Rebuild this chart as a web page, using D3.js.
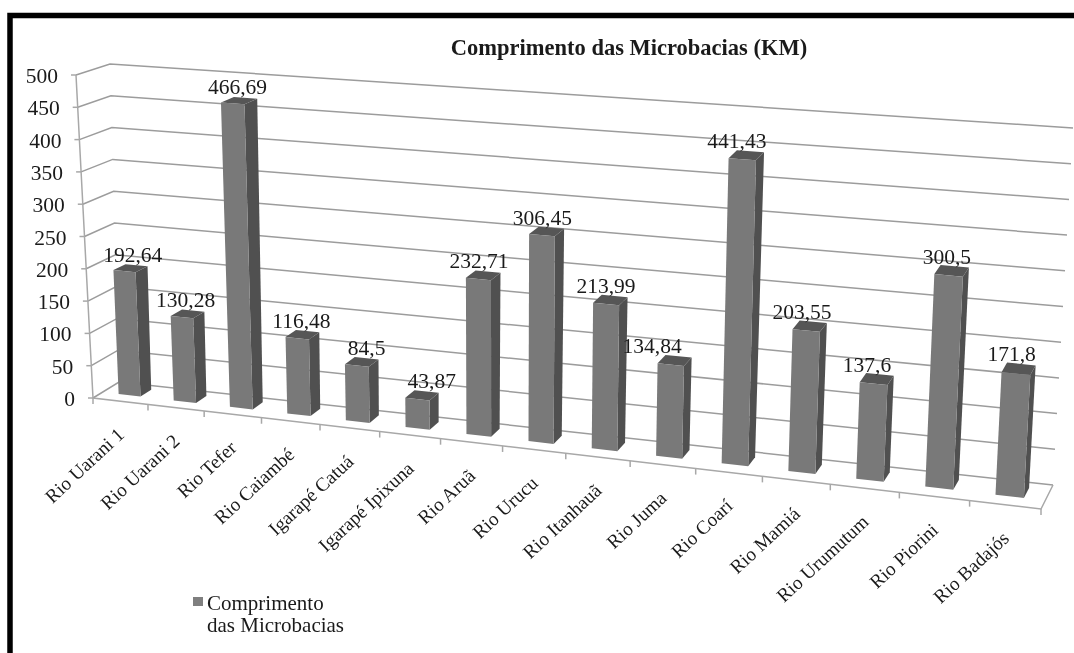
<!DOCTYPE html>
<html>
<head>
<meta charset="utf-8">
<title>Comprimento das Microbacias (KM)</title>
<script src="https://d3js.org/d3.v7.min.js"></script>
<style>
    html, body { margin: 0; padding: 0; background: #fff; overflow: hidden; }
    svg { display: block; filter: blur(0.45px); }
    text { font-family: "Liberation Serif", "Times New Roman", serif; fill: #1a1a1a; }
    .grid { stroke: #9c9c9c; stroke-width: 1.5; fill: none; }
    .edge { stroke: #a8a8a8; stroke-width: 1.5; fill: none; }
</style>
</head>
<body>
<script>
var titleText = "Comprimento das Microbacias (KM)";
var legendLines = ["Comprimento", "das Microbacias"];
var categories = ["Rio Uarani 1", "Rio Uarani 2", "Rio Tefer", "Rio Caiambé", "Igarapé Catuá",
    "Igarapé Ipixuna", "Rio Aruã", "Rio Urucu", "Rio Itanhauã", "Rio Juma", "Rio Coarí",
    "Rio Mamiá", "Rio Urumutum", "Rio Piorini", "Rio Badajós"];
var values = [192.64, 130.28, 466.69, 116.48, 84.5, 43.87, 232.71, 306.45, 213.99, 134.84,
    441.43, 203.55, 137.6, 300.5, 171.8];

var w = 1074, h = 653;
var svg = d3.select("body").append("svg")
    .attr("width", w)
    .attr("height", h);

// the four upright corners of the 3d box, as value -> pixel scales
var valueDomain = [0, 500];
var corners = {
    frontLeft: {x: d3.scaleLinear().domain(valueDomain).range([93, 76]), y: d3.scaleLinear().domain(valueDomain).range([398, 75])},
    backLeft: {x: d3.scaleLinear().domain(valueDomain).range([119, 110]), y: d3.scaleLinear().domain(valueDomain).range([382, 64])},
    frontRight: {x: d3.scaleLinear().domain(valueDomain).range([1041, 1060]), y: d3.scaleLinear().domain(valueDomain).range([509, 150])},
    backRight: {x: d3.scaleLinear().domain(valueDomain).range([1053, 1073]), y: d3.scaleLinear().domain(valueDomain).range([485, 128])}
};
var yTicks = d3.scaleLinear().domain(valueDomain).ticks(10);

// categories get a little wider towards the viewer (right side)
var n = categories.length;
var band = d3.scaleLinear().domain([0, 54.4 * n + 0.586 * n * n]).range([0, 1]);
function along(i) {
    return band(54.4 * i + 0.586 * i * i);
}

// i = position along the categories, v = value, d = 0 front .. 1 back
function project(i, v, d) {
    var t = along(i);
    var fx = d3.interpolateNumber(corners.frontLeft.x(v), corners.frontRight.x(v))(t),
        fy = d3.interpolateNumber(corners.frontLeft.y(v), corners.frontRight.y(v))(t),
        bx = d3.interpolateNumber(corners.backLeft.x(v), corners.backRight.x(v))(t),
        by = d3.interpolateNumber(corners.backLeft.y(v), corners.backRight.y(v))(t);
    return [fx + (bx - fx) * d, fy + (by - fy) * d];
}

var path = d3.line();

//walls
var walls = svg.append("g");
walls.selectAll(".back")
    .data(yTicks)
    .enter()
    .append("path")
    .attr("class", "grid")
    .attr("d", function (v) {
        return path([project(0, v, 0), project(0, v, 1), project(n, v, 1)]);
    });

walls.append("path")
    .attr("class", "edge")
    .attr("d", path([project(0, 500, 0), project(0, 0, 0), project(n, 0, 0), project(n, 0, 1)]));

//ticks
walls.selectAll(".ytick")
    .data(yTicks)
    .enter()
    .append("path")
    .attr("class", "edge")
    .attr("d", function (v) {
        var p = project(0, v, 0);
        return path([p, [p[0] - 5, p[1]]]);
    });

walls.selectAll(".xtick")
    .data(d3.range(n + 1))
    .enter()
    .append("path")
    .attr("class", "edge")
    .attr("d", function (i) {
        var p = project(i, 0, 0);
        return path([p, [p[0], p[1] + 6]]);
    });

svg.selectAll(".ylabel")
    .data(yTicks)
    .enter()
    .append("text")
    .attr("text-anchor", "end")
    .attr("font-size", 21.5)
    .attr("x", function (v) { return project(0, v, 0)[0] - 18; })
    .attr("y", function (v) { return project(0, v, 0)[1] + 8; })
    .text(function (v) { return v; });

//bars
var gap = 0.3, depthFront = 0.36, depthBack = 0.78;
var bars = svg.selectAll(".bar")
    .data(values)
    .enter()
    .append("g")
    .attr("class", "bar");

bars.append("path")
    .attr("fill", "#505050")
    .attr("d", function (v, i) {
        var r = i + 1 - gap;
        return path([project(r, 0, depthFront), project(r, v, depthFront), project(r, v, depthBack), project(r, 0, depthBack)]) + "Z";
    });

bars.append("path")
    .attr("fill", "#565656")
    .attr("d", function (v, i) {
        var l = i + gap, r = i + 1 - gap;
        return path([project(l, v, depthFront), project(r, v, depthFront), project(r, v, depthBack), project(l, v, depthBack)]) + "Z";
    });

bars.append("path")
    .attr("fill", "#797979")
    .attr("d", function (v, i) {
        var l = i + gap, r = i + 1 - gap;
        return path([project(l, 0, depthFront), project(r, 0, depthFront), project(r, v, depthFront), project(l, v, depthFront)]) + "Z";
    });

//value labels, Excel moved some of them sideways
var labelNudge = [0, -4, -4, -3, 3, 8, -6, -6, -6, -24, -11, -9, -11, -6, -8];
svg.selectAll(".value")
    .data(values)
    .enter()
    .append("text")
    .attr("text-anchor", "middle")
    .attr("font-size", 21.5)
    .attr("x", function (v, i) { return project(i + 0.5, v, 0.65)[0] + labelNudge[i]; })
    .attr("y", function (v, i) { return project(i + 0.5, v, 0.65)[1] - 5.5; })
    .text(function (v) { return String(v).replace(".", ","); });

//category labels
svg.selectAll(".cat")
    .data(categories)
    .enter()
    .append("text")
    .attr("text-anchor", "end")
    .attr("font-size", 19.3)
    .attr("transform", function (c, i) {
        var p = project(i + 0.5, 0, 0);
        return "translate(" + (p[0] + 5) + "," + (p[1] + 35) + ") rotate(-43)";
    })
    .text(function (c) { return c; });

//title
svg.append("text")
    .attr("x", 629)
    .attr("y", 55)
    .attr("text-anchor", "middle")
    .attr("font-size", 22.5)
    .attr("font-weight", "bold")
    .text(titleText);

//legend
svg.append("rect")
    .attr("x", 193)
    .attr("y", 597)
    .attr("width", 10)
    .attr("height", 9)
    .attr("fill", "#7f7f7f");

svg.selectAll(".legend")
    .data(legendLines)
    .enter()
    .append("text")
    .attr("x", 207)
    .attr("y", function (d, i) { return 609.5 + i * 22.5; })
    .attr("font-size", 21)
    .text(function (d) { return d; });

//frame, only top and left are in the picture
svg.append("path")
    .attr("fill", "none")
    .attr("stroke", "#000")
    .attr("stroke-width", 5.5)
    .attr("d", path([[10, h], [10, 15.5], [w, 15.5]]));
</script>
</body>
</html>
